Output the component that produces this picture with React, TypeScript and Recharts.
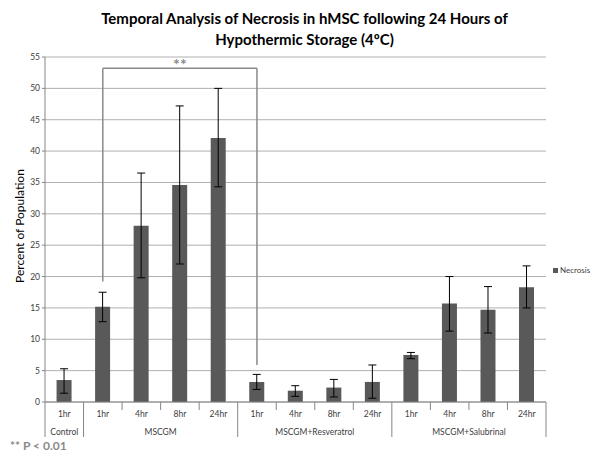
import React from 'react';
import { BarChart, Bar, XAxis, YAxis, CartesianGrid, ErrorBar, ReferenceLine } from 'recharts';

const categoryKeys = ['C-1hr', 'M-1hr', 'M-4hr', 'M-8hr', 'M-24hr', 'R-1hr', 'R-4hr', 'R-8hr', 'R-24hr', 'S-1hr', 'S-4hr', 'S-8hr', 'S-24hr'];
const timeLabels = ['1hr', '1hr', '4hr', '8hr', '24hr', '1hr', '4hr', '8hr', '24hr', '1hr', '4hr', '8hr', '24hr'];
const groupLabels = ['Control', 'MSCGM', 'MSCGM', 'MSCGM', 'MSCGM', 'MSCGM+Resveratrol', 'MSCGM+Resveratrol', 'MSCGM+Resveratrol', 'MSCGM+Resveratrol', 'MSCGM+Salubrinal', 'MSCGM+Salubrinal', 'MSCGM+Salubrinal', 'MSCGM+Salubrinal'];
const necrosis = [3.5, 15.2, 28.1, 34.6, 42.1, 3.2, 1.8, 2.3, 3.2, 7.5, 15.7, 14.7, 18.3];
const errLow = [1.4, 12.8, 19.8, 22.0, 34.3, 2.0, 0.9, 0.8, 0.6, 6.9, 11.3, 11.0, 15.0];
const errHigh = [5.3, 17.5, 36.5, 47.2, 50.0, 4.4, 2.6, 3.6, 5.9, 7.9, 20.0, 18.4, 21.7];
const yTicks = [0, 5, 10, 15, 20, 25, 30, 35, 40, 45, 50, 55];

const bracketLeft = 'M-1hr';
const bracketRight = 'R-1hr';
const bracketTop = 53.2;
const bracketLeftEnd = 19.2;
const bracketRightEnd = 5.9;

const data = categoryKeys.map((k, i) => ({
  key: k,
  necrosis: necrosis[i],
  err: [necrosis[i] - errLow[i], errHigh[i] - necrosis[i]],
}));

const FONT = 'Lato, "Open Sans", sans-serif';
const TICK_COLOR = '#404040';

const isGroupStart = (i: number) => i === 0 || groupLabels[i] !== groupLabels[i - 1];

const XTick = (props: any) => {
  const { x, y, payload } = props;
  const i: number = payload.index;
  const half: number = payload.offset ?? 19.27;
  const parts: React.ReactNode[] = [];
  const leftX = x - half;
  const rightX = x + half;
  parts.push(
    <line key="l" x1={leftX} x2={leftX} y1={y} y2={y + (isGroupStart(i) ? 35 : 8)} stroke="#868686" strokeWidth={1} />
  );
  if (i === categoryKeys.length - 1) {
    parts.push(<line key="r" x1={rightX} x2={rightX} y1={y} y2={y + 35} stroke="#868686" strokeWidth={1} />);
  }
  parts.push(
    <text key="t" x={x} y={y + 12} textAnchor="middle" dominantBaseline="central" fontSize={8.5} fill={TICK_COLOR} fontFamily={FONT}>
      {timeLabels[i]}
    </text>
  );
  const g = groupLabels[i];
  const first = groupLabels.indexOf(g);
  const last = groupLabels.lastIndexOf(g);
  const center = (first + last) / 2;
  if (i === Math.floor(center)) {
    const gx = x + (center - i) * 2 * half;
    parts.push(
      <text key="g" x={gx} y={y + 30} textAnchor="middle" dominantBaseline="central" fontSize={8.5} fill={TICK_COLOR} fontFamily={FONT}>
        {g}
      </text>
    );
  }
  return <g>{parts}</g>;
};

export default function App() {
  return (
    <div style={{ position: 'absolute', left: 0, top: 0, width: 609, height: 463, background: '#fff', fontFamily: FONT }}>
      <div style={{ position: 'absolute', left: 0, width: 609, top: 8, textAlign: 'center', fontWeight: 700, fontSize: 15, lineHeight: '21px', color: '#000' }}>
        Temporal Analysis of Necrosis in hMSC following 24 Hours of
        <br />
        Hypothermic Storage (4ºC)
      </div>
      <BarChart width={609} height={463} data={data} margin={{ top: 57, right: 63, bottom: 21, left: 0 }} barCategoryGap="30%">
        <CartesianGrid vertical={false} stroke="#b0b0b0" />
        <XAxis
          dataKey="key"
          interval={0}
          height={40}
          tickSize={0}
          tickMargin={0}
          tickLine={false}
          axisLine={{ stroke: '#868686' }}
          tick={<XTick />}
        />
        <YAxis
          width={45}
          domain={[0, 55]}
          ticks={yTicks}
          interval={0}
          tickSize={3}
          tickLine={{ stroke: '#868686' }}
          axisLine={{ stroke: '#868686' }}
          tick={{ fontSize: 8.5, fill: TICK_COLOR, fontFamily: FONT }}
          label={{
            content: () => (
              <text x={19} y={226} transform="rotate(-90 19 226)" textAnchor="middle" dominantBaseline="central" fontSize={12} fill="#000" fontFamily={FONT}>
                Percent of Population
              </text>
            ),
          }}
        />
        <Bar dataKey="necrosis" fill="#595959" isAnimationActive={false}>
          <ErrorBar dataKey="err" width={4} stroke="#000" strokeWidth={1} direction="y" />
        </Bar>
        <ReferenceLine
          segment={[{ x: bracketLeft, y: bracketTop }, { x: bracketRight, y: bracketTop }]}
          stroke="#8a8a8a"
          strokeWidth={1.5}
          ifOverflow="visible"
          label={{ value: '**', position: 'top', offset: -2, fill: '#8a8a8a', fontSize: 16, fontWeight: 700, fontFamily: FONT }}
        />
        <ReferenceLine
          segment={[{ x: bracketLeft, y: bracketTop }, { x: bracketLeft, y: bracketLeftEnd }]}
          stroke="#8a8a8a"
          strokeWidth={1.5}
          ifOverflow="visible"
        />
        <ReferenceLine
          segment={[{ x: bracketRight, y: bracketTop }, { x: bracketRight, y: bracketRightEnd }]}
          stroke="#8a8a8a"
          strokeWidth={1.5}
          ifOverflow="visible"
        />
      </BarChart>
      <div style={{ position: 'absolute', left: 553, top: 265, display: 'flex', alignItems: 'center', fontSize: 8, color: TICK_COLOR }}>
        <span style={{ display: 'inline-block', width: 5, height: 5, background: '#595959', marginRight: 2 }} />
        Necrosis
      </div>
      <div style={{ position: 'absolute', left: 10, top: 438, fontSize: 12, fontWeight: 700, color: '#8a8a8a' }}>
        ** P &lt; 0.01
      </div>
    </div>
  );
}
